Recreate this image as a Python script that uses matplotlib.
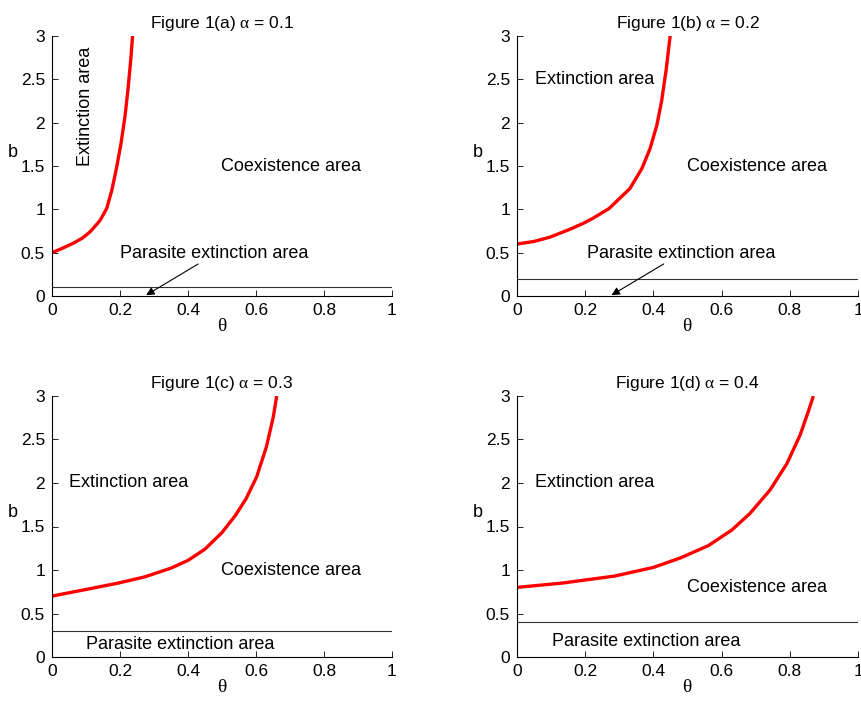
import matplotlib.pyplot as plt

plt.rcParams['font.family'] = ['Liberation Sans', 'DejaVu Sans']
plt.rcParams['mathtext.fontset'] = 'custom'
plt.rcParams['mathtext.rm'] = 'Liberation Serif'
plt.rcParams['mathtext.it'] = 'Liberation Serif'

# values
alphas = [0.1, 0.2, 0.3, 0.4]
labels = ['a', 'b', 'c', 'd']

theta_a = [0.0, 0.030, 0.063, 0.090, 0.112, 0.141, 0.161, 0.176, 0.190, 0.203,
           0.215, 0.224, 0.232, 0.237]
b_a = [0.50, 0.55, 0.61, 0.67, 0.74, 0.87, 1.01, 1.22, 1.48, 1.76, 2.08, 2.40,
       2.74, 3.00]

theta_b = [0.0, 0.050, 0.097, 0.155, 0.195, 0.224, 0.270, 0.331, 0.366, 0.390,
           0.410, 0.424, 0.437, 0.449]
b_b = [0.60, 0.63, 0.68, 0.77, 0.84, 0.90, 1.01, 1.24, 1.47, 1.70, 1.97, 2.25,
       2.60, 3.00]

theta_c = [0.0, 0.118, 0.195, 0.272, 0.349, 0.400, 0.450, 0.500, 0.540, 0.571,
           0.602, 0.631, 0.651, 0.661]
b_c = [0.70, 0.79, 0.85, 0.92, 1.02, 1.11, 1.24, 1.43, 1.63, 1.82, 2.07, 2.42,
       2.76, 3.00]

theta_d = [0.0, 0.133, 0.286, 0.400, 0.480, 0.561, 0.630, 0.683, 0.742, 0.791,
           0.830, 0.854, 0.869]
b_d = [0.80, 0.85, 0.93, 1.03, 1.14, 1.28, 1.46, 1.65, 1.92, 2.22, 2.55, 2.82, 3.00]

curves = [(theta_a, b_a), (theta_b, b_b), (theta_c, b_c), (theta_d, b_d)]

# text positions (theta, b)
ext_pos = [(0.10, 2.19), (0.227, 2.5), (0.224, 2.01), (0.227, 2.01)]
coex_pos = [(0.704, 1.5), (0.705, 1.5), (0.704, 1.0), (0.705, 0.8)]
par_pos = [(0.476, 0.485), (0.48, 0.485), (0.376, 0.14), (0.379, 0.18)]

xticks = [0, 0.2, 0.4, 0.6, 0.8, 1]
yticks = [0, 0.5, 1, 1.5, 2, 2.5, 3]

fig = plt.figure(figsize=(8.62, 7.02), dpi=100)
rects = [(0.0603, 0.5783, 0.3944, 0.3704), (0.5998, 0.5783, 0.3956, 0.3704),
         (0.0603, 0.0641, 0.3944, 0.3718), (0.5998, 0.0641, 0.3956, 0.3718)]

for i in range(4):
    ax = fig.add_axes(rects[i])
    th, b = curves[i]
    ax.plot(th, b, color='red', lw=2.4, solid_capstyle='butt', solid_joinstyle='round')
    ax.axhline(alphas[i], color='#333333', lw=0.8)
    ax.set_xlim(0, 1)
    ax.set_ylim(0, 3)
    ax.set_xticks(xticks)
    ax.set_xticklabels(['0', '0.2', '0.4', '0.6', '0.8', '1'])
    ax.set_yticks(yticks)
    ax.set_yticklabels(['0', '0.5', '1', '1.5', '2', '2.5', '3'])
    ax.tick_params(direction='in', length=4, width=0.6, labelsize=12.5, pad=5)
    ax.spines['top'].set_visible(False)
    ax.spines['right'].set_visible(False)
    ax.spines['left'].set_linewidth(0.8)
    ax.spines['bottom'].set_linewidth(0.8)
    ax.set_title('Figure 1(%s) $\\alpha$ = %.1f' % (labels[i], alphas[i]), fontsize=12.5, pad=6)
    ax.set_xlabel('$\\theta$', fontsize=14, labelpad=0)
    ax.set_ylabel('b', fontsize=13, rotation=0)
    ax.yaxis.set_label_coords(-0.115, 0.52)

    if i == 0:
        ax.text(ext_pos[i][0], ext_pos[i][1], 'Extinction area', fontsize=13,
                rotation=90, ha='center', va='center')
    else:
        ax.text(ext_pos[i][0], ext_pos[i][1], 'Extinction area', fontsize=13,
                ha='center', va='center')
    ax.text(coex_pos[i][0], coex_pos[i][1], 'Coexistence area', fontsize=13,
            ha='center', va='center')
    ax.text(par_pos[i][0], par_pos[i][1], 'Parasite extinction area', fontsize=13,
            ha='center', va='center')
    if i < 2:
        ax.annotate('', xy=(0.277, 0.01), xytext=(0.43, 0.37),
                    arrowprops=dict(arrowstyle='-|>', color='black', lw=0.8,
                                    mutation_scale=12, shrinkA=0, shrinkB=0))

fig.savefig('out.png', dpi=100)
